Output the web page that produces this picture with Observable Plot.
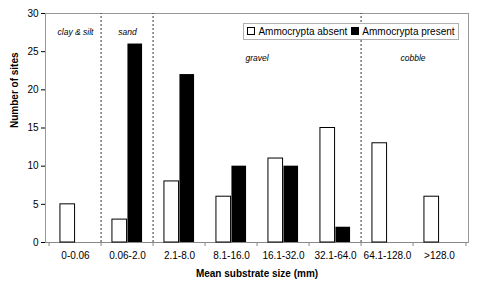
<!DOCTYPE html>
<html>
<head>
<meta charset="utf-8">
<script src="https://cdn.jsdelivr.net/npm/d3@7"></script>
<script src="https://cdn.jsdelivr.net/npm/@observablehq/plot@0.6"></script>
<style>
  body { margin: 0; background: #fff; font-family: "Liberation Sans", Arial, sans-serif; }
  #wrap { position: relative; width: 481px; height: 290px; }
  #legend { position: absolute; left: 243px; top: 23px; width: 214px; height: 15px; border: 1px solid #b0b0b0;
    background: #fff; font-size: 10px; display: flex; align-items: center; justify-content: center; gap: 4px; color: #000; white-space: nowrap; }
  .sw { display: inline-block; width: 6px; height: 6px; border: 1px solid #000; margin-right: 3px; vertical-align: middle; position: relative; top: -1px; }
</style>
</head>
<body>
<div id="wrap"><div id="legend"></div></div>
<script>
const categories = ["0-0.06", "0.06-2.0", "2.1-8.0", "8.1-16.0", "16.1-32.0", "32.1-64.0", "64.1-128.0", ">128.0"];
const absent = [5, 3, 8, 6, 11, 15, 13, 6];
const present = [0, 26, 22, 10, 10, 2, 0, 0];
const seriesNames = ["Ammocrypta absent", "Ammocrypta present"];
const yTicks = [0, 5, 10, 15, 20, 25, 30];
const dividers = ["0.06-2.0", "2.1-8.0", "64.1-128.0"];
const regionLabels = ["clay & silt", "sand", "gravel", "cobble"];
const regionCats = ["0-0.06", "0.06-2.0", "16.1-32.0", ">128.0"];
const regionY = [27.6, 27.6, 24.2, 24.2];

const W = 481, H = 290, mL = 45, mR = 13, mT = 13, mB = 48;
const step = (W - mL - mR) / categories.length;
const barW = 15.5;

const rows = categories.map((c, i) => ({cat: c, absent: absent[i], present: present[i]}));
const regions = regionLabels.map((t, i) => ({label: t, cat: regionCats[i], y: regionY[i]}));
const regionDx = [0, 0, -step / 2, -step / 2];

const font = "Liberation Sans, Arial, sans-serif";

const chart = Plot.plot({
  width: W, height: H,
  marginLeft: mL, marginRight: mR, marginTop: mT, marginBottom: mB,
  style: {fontFamily: font, fontSize: "10px", color: "#000", background: "#fff"},
  x: {type: "band", domain: categories, padding: 0, tickSize: 0, tickPadding: 9, label: null},
  y: {domain: [0, 30], ticks: yTicks, tickSize: 4, tickPadding: 3, label: null, line: true},
  marks: [
    Plot.frame({stroke: "#999"}),
    Plot.ruleY([0], {stroke: "#888"}),
    Plot.ruleX(categories, {x: d => d, y1: 0, y2: 0, dx: -step / 2, insetBottom: -4, stroke: "#888"}),
    Plot.ruleX(categories.slice(-1), {x: d => d, y1: 0, y2: 0, dx: step / 2, insetBottom: -4, stroke: "#888"}),
    Plot.ruleX(dividers, {x: d => d, y1: 0, y2: 30, dx: -step / 2, stroke: "#333", strokeDasharray: "2,2"}),
    Plot.barY(rows.filter(d => d.absent > 0), {x: "cat", y: "absent", fill: "#fff", stroke: "#000", strokeWidth: 1,
      insetLeft: step / 2 - barW, insetRight: step / 2}),
    Plot.barY(rows.filter(d => d.present > 0), {x: "cat", y: "present", fill: "#000",
      insetLeft: step / 2, insetRight: step / 2 - barW}),
    ...regions.map((r, i) => Plot.text([r], {x: "cat", y: "y", text: "label", dx: regionDx[i],
      fontStyle: "italic", fontSize: 8.5, fill: "#000"})),
    Plot.text(["Number of sites"], {frameAnchor: "left", rotate: -90, dx: -31, fontWeight: "bold", fontSize: 10, fill: "#000"}),
    Plot.text(["Mean substrate size (mm)"], {frameAnchor: "bottom", dy: 34, fontWeight: "bold", fontSize: 10, fill: "#000"})
  ]
});
document.getElementById("wrap").prepend(chart);

const legend = document.getElementById("legend");
seriesNames.forEach((n, i) => {
  const s = document.createElement("span");
  s.innerHTML = `<span class="sw" style="background:${i ? "#000" : "#fff"}"></span>${n}`;
  legend.appendChild(s);
});
</script>
</body>
</html>
